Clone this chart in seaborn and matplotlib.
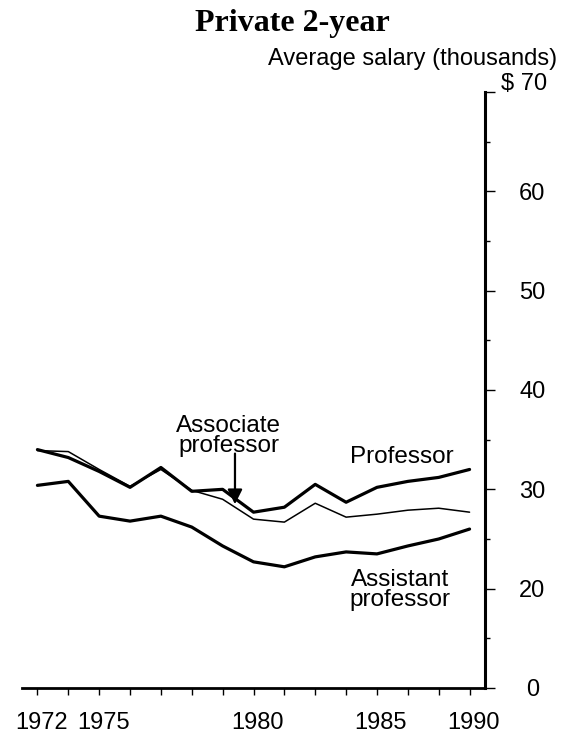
import matplotlib
matplotlib.use("Agg")
import matplotlib.pyplot as plt
import matplotlib.transforms as mtransforms
from matplotlib.ticker import FixedLocator
import numpy as np
import pandas as pd
import seaborn as sns

# ---- data ----
x_labels = ["1972", "", "1975", "", "", "", "", "1980", "", "", "", "1985", "", "", "1990"]
professor = [34.0, 33.2, 31.8, 30.2, 32.2, 29.8, 30.0, 27.7, 28.2, 30.5, 28.7, 30.2, 30.8, 31.2, 32.0]
associate = [33.9, 33.8, 32.0, 30.3, 32.0, 29.9, 29.0, 27.0, 26.7, 28.6, 27.2, 27.5, 27.9, 28.1, 27.7]
assistant = [30.4, 30.8, 27.3, 26.8, 27.3, 26.2, 24.3, 22.7, 22.2, 23.2, 23.7, 23.5, 24.3, 25.0, 26.0]
y_ticks = [10, 20, 30, 40, 50, 60, 70]
y_tick_labels = ["0", "20", "30", "40", "50", "60", "$ 70"]
y_minor = [15, 25, 35, 45, 55, 65]

sns.set_theme(style="white")
plt.rcParams["font.family"] = ["Liberation Sans", "DejaVu Sans"]
plt.rcParams["text.color"] = "black"
plt.rcParams["xtick.color"] = "black"
plt.rcParams["ytick.color"] = "black"
plt.rcParams["axes.labelcolor"] = "black"

n = len(x_labels)
pos = np.arange(n)
df = pd.DataFrame({
    "pos": np.concatenate([pos, pos, pos]),
    "salary": professor + associate + assistant,
    "rank": ["Professor"] * n + ["Associate"] * n + ["Assistant"] * n,
})

fig = plt.figure(figsize=(5.74, 7.37), dpi=100)
ax = fig.add_axes([22 / 574, 1 - 688 / 737, (485 - 22) / 574, (688 - 92) / 737])

sns.lineplot(data=df, x="pos", y="salary", hue="rank", size="rank",
             hue_order=["Professor", "Associate", "Assistant"],
             palette={"Professor": "black", "Associate": "black", "Assistant": "black"},
             sizes={"Professor": 2.3, "Associate": 1.1, "Assistant": 2.3},
             legend=False, ax=ax)

ax.set_xlim(-0.5, n - 0.5)
ax.set_ylim(10, 70)
ax.set_xlabel("")
ax.set_ylabel("")

# spines
for s in ["top", "left"]:
    ax.spines[s].set_visible(False)
ax.spines["right"].set_linewidth(2.2)
ax.spines["bottom"].set_linewidth(2.0)
ax.spines["right"].set_color("black")
ax.spines["bottom"].set_color("black")

# x ticks
ax.set_xticks(pos)
ax.set_xticklabels(x_labels)
ax.tick_params(axis="x", direction="out", length=5, width=1, color="black",
               pad=12, labelsize=17, bottom=True, labelcolor="black")
for lab in ax.get_xticklabels():
    lab.set_transform(lab.get_transform() +
                      mtransforms.ScaledTranslation(4 / 100, 0, fig.dpi_scale_trans))

# y ticks on right
ax.yaxis.tick_right()
ax.set_yticks(y_ticks)
ax.set_yticklabels(y_tick_labels)
ax.yaxis.set_minor_locator(FixedLocator(y_minor))
ax.tick_params(axis="y", which="major", direction="out", length=7, width=1,
               color="black", pad=27, labelsize=17, right=True, left=False,
               labelcolor="black")
ax.tick_params(axis="y", which="minor", direction="out", length=3.5, width=1,
               color="black", right=True, left=False)
for lab in ax.get_yticklabels():
    lab.set_horizontalalignment("center")
    if lab.get_text().startswith("$"):
        lab.set_transform(lab.get_transform() +
                          mtransforms.ScaledTranslation(-8 / 100, 10 / 100, fig.dpi_scale_trans))
ax.grid(False)

# annotations
ax.text(11.8, 33.3, "Professor", ha="center", va="center", fontsize=17.5)
ax.text(11.75, 19.9, "Assistant\nprofessor", ha="center", va="center",
        fontsize=17.5, linespacing=0.9)
ax.text(6.2, 35.4, "Associate\nprofessor", ha="center", va="center",
        fontsize=17.5, linespacing=0.9)
ax.annotate("", xy=(6.4, 28.5), xytext=(6.4, 33.6),
            arrowprops=dict(arrowstyle="-|>", lw=1.6, color="black",
                            mutation_scale=22, shrinkA=0, shrinkB=0))

# titles
fig.text(292 / 574, 1 - 24 / 737, "Private 2-year", ha="center", va="center",
         fontsize=23, fontweight="bold", family=["Liberation Serif", "DejaVu Serif"])
fig.text(557 / 574, 1 - 59 / 737, "Average salary (thousands)", ha="right",
         va="center", fontsize=17)

fig.savefig("out.png", dpi=100, facecolor="white")
